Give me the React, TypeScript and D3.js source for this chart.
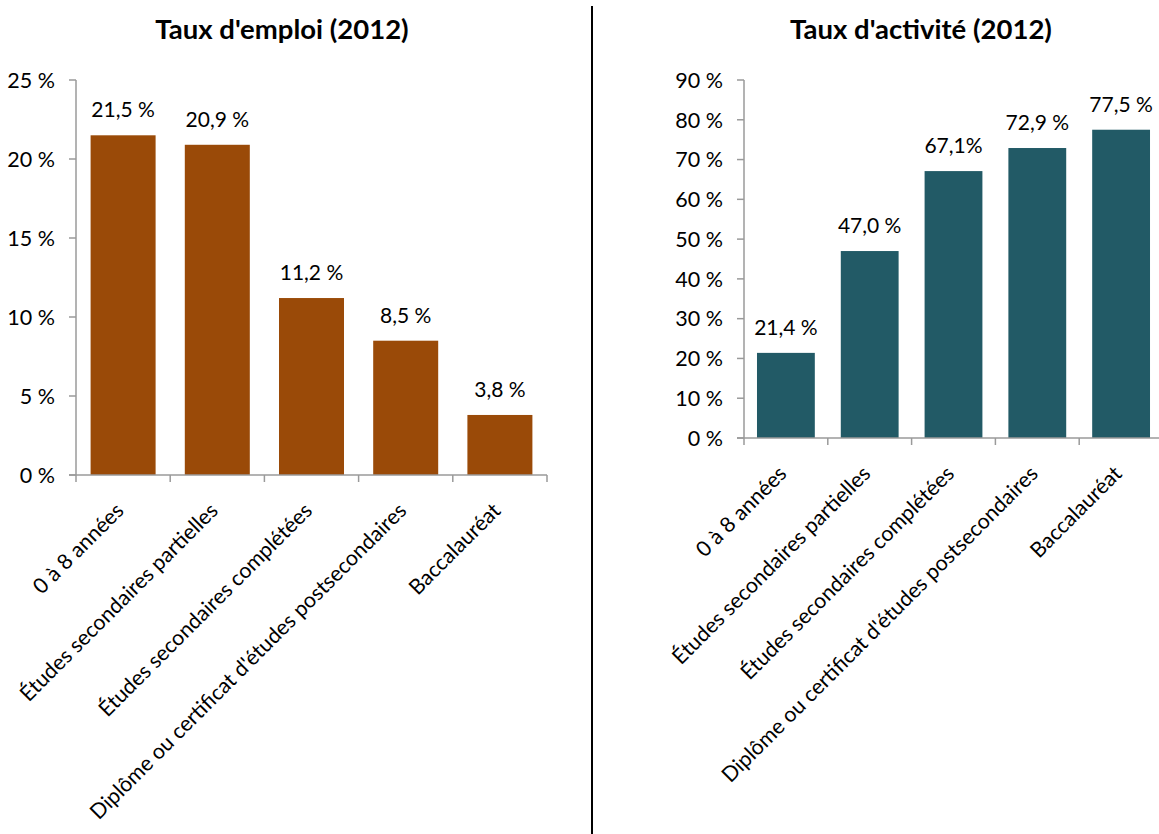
import React from "react";
import * as d3 from "d3";

const categories = [
  "0 à 8 années",
  "Études secondaires partielles",
  "Études secondaires complétées",
  "Diplôme ou certificat d'études postsecondaires",
  "Baccalauréat",
];
const emploiValues = [21.5, 20.9, 11.2, 8.5, 3.8];
const emploiLabels = ["21,5 %", "20,9 %", "11,2 %", "8,5 %", "3,8 %"];
const activiteValues = [21.4, 47.0, 67.1, 72.9, 77.5];
const activiteLabels = ["21,4 %", "47,0 %", "67,1%", "72,9 %", "77,5 %"];
const emploiTicks = [0, 5, 10, 15, 20, 25];
const activiteTicks = [0, 10, 20, 30, 40, 50, 60, 70, 80, 90];

const FONT = "Lato, 'Open Sans', sans-serif";

type PanelProps = {
  title: string;
  titleX: number;
  values: number[];
  labels: string[];
  ticks: number[];
  yMax: number;
  x0: number;
  x1: number;
  y0: number;
  y1: number;
  color: string;
  padding: number;
};

function Panel(p: PanelProps) {
  const x = d3.scaleBand<string>().domain(categories).range([p.x0, p.x1]).paddingInner(p.padding).paddingOuter(p.padding / 2);
  const y = d3.scaleLinear().domain([0, p.yMax]).range([p.y0, p.y1]);
  const step = x.step();
  const axisColor = "#9a9a9a";
  return (
    <g>
      <text x={p.titleX} y={39} textAnchor="middle" fontWeight="bold" fontSize={27.5} fontFamily={FONT} fill="#000">
        {p.title}
      </text>
      {/* y axis */}
      <line x1={p.x0} x2={p.x0} y1={y(p.yMax)} y2={p.y0 + 7} stroke={axisColor} strokeWidth={1.5} />
      {p.ticks.map((t) => (
        <g key={t}>
          <line x1={p.x0 - 7} x2={p.x0} y1={y(t)} y2={y(t)} stroke={axisColor} strokeWidth={1.5} />
          <text x={p.x0 - 21} y={y(t)} dy="0.36em" textAnchor="end" fontSize={21.5} fontFamily={FONT} fill="#000">
            {t} %
          </text>
        </g>
      ))}
      {/* bars */}
      {categories.map((c, i) => (
        <g key={c}>
          <rect x={x(c)!} y={y(p.values[i])} width={x.bandwidth()} height={p.y0 - y(p.values[i])} fill={p.color} />
          <text x={x(c)! + x.bandwidth() / 2} y={y(p.values[i]) - 18} textAnchor="middle" fontSize={21} fontFamily={FONT} fill="#000">
            {p.labels[i]}
          </text>
        </g>
      ))}
      {/* x axis */}
      <line x1={p.x0 - 7} x2={p.x1} y1={p.y0} y2={p.y0} stroke={axisColor} strokeWidth={1.5} />
      {categories.map((c, i) => (
        <line key={"t" + i} x1={p.x0 + step * (i + 1)} x2={p.x0 + step * (i + 1)} y1={p.y0} y2={p.y0 + 7} stroke={axisColor} strokeWidth={1.5} />
      ))}
      {categories.map((c) => {
        const cx = x(c)! + x.bandwidth() / 2 + 2;
        const cy = p.y0 + 37;
        return (
          <text key={"l" + c} x={cx} y={cy} textAnchor="end" fontSize={21.3} fontFamily={FONT} fill="#000" transform={`rotate(-45 ${cx} ${cy})`}>
            {c}
          </text>
        );
      })}
    </g>
  );
}

export default function App() {
  return (
    <svg width={1159} height={834} style={{ position: "absolute", left: 0, top: 0, background: "#fff" }}>
      <rect width={1159} height={834} fill="#fff" />
      <Panel
        title="Taux d'emploi (2012)"
        titleX={282}
        values={emploiValues}
        labels={emploiLabels}
        ticks={emploiTicks}
        yMax={25}
        x0={76}
        x1={547}
        y0={475}
        y1={80}
        color="#9a4a08"
        padding={0.31}
      />
      <Panel
        title="Taux d'activité (2012)"
        titleX={921}
        values={activiteValues}
        labels={activiteLabels}
        ticks={activiteTicks}
        yMax={90}
        x0={744}
        x1={1163}
        y0={438}
        y1={80}
        color="#225a66"
        padding={0.31}
      />
      <line x1={592} x2={592} y1={6} y2={834} stroke="#000" strokeWidth={2} />
    </svg>
  );
}
